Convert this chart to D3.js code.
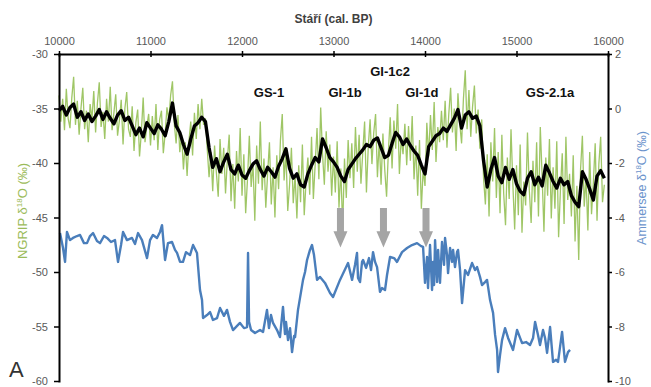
<!DOCTYPE html>
<html>
<head>
<meta charset="utf-8">
<script src="https://cdn.jsdelivr.net/npm/d3@7"></script>
<style>
body { margin: 0; background: #fff; }
text { font-family: "Liberation Sans", Arial, sans-serif; }
</style>
</head>
<body>
<script>
// top axis (age) and the two y axes
var xTicks = [10000, 11000, 12000, 13000, 14000, 15000, 16000];
var ngripTicks = [-30, -35, -40, -45, -50, -55, -60];
var ammTicks = [2, 0, -2, -4, -6, -8, -10];

// NGRIP raw d18O, one value every 20 years from 10000 BP
var rawStart = 10000, rawStep = 20;
var ngripRaw = [
  -33.8, -36.2, -34.1, -37.0, -33.2, -35.9, -36.8, -34.0, -32.1, -36.5,
  -34.3, -37.4, -35.0, -33.1, -36.9, -35.2, -38.1, -34.6, -36.0, -33.4,
  -37.2, -34.5, -32.6, -36.7, -35.3, -37.8, -34.1, -36.2, -33.0, -37.0,
  -35.4, -33.7, -37.5, -36.1, -34.2, -38.3, -35.0, -33.5, -36.9, -37.6,
  -34.8, -38.9, -36.3, -35.1, -39.4, -37.2, -34.0, -38.1, -36.6, -35.5,
  -38.4, -35.7, -37.9, -34.6, -38.8, -36.0, -35.2, -39.1, -37.3, -34.9,
  -36.1, -33.8, -32.5, -36.4, -38.2, -35.6, -39.0, -37.4, -40.6, -38.1,
  -41.2, -38.0, -36.2, -39.3, -35.4, -37.8, -34.6, -36.9, -34.1, -36.5,
  -35.9, -38.7, -41.3, -39.0, -42.6, -38.4, -40.9, -43.1, -37.8, -41.0,
  -38.6, -42.8, -39.7, -37.4, -43.5, -40.1, -44.2, -38.9, -41.7, -36.8,
  -43.0, -39.2, -44.6, -41.5, -37.5, -42.2, -40.0, -45.3, -38.4, -41.9,
  -36.2, -42.5, -39.6, -44.1, -41.0, -38.1, -43.8, -40.4, -45.0, -39.3,
  -42.4, -37.9, -35.5, -41.6, -39.0, -44.4, -42.0, -38.6, -43.7, -41.1,
  -45.1, -40.2, -43.6, -38.3, -44.8, -41.7, -39.5, -42.9, -37.6, -43.3,
  -40.1, -36.8, -41.5, -34.9, -39.2, -42.0, -37.1, -40.8, -38.3, -43.0,
  -39.4, -42.7, -38.0, -44.1, -40.5, -46.0, -39.6, -43.2, -37.9, -41.4,
  -38.2, -42.3, -36.7, -40.8, -37.4, -41.9, -39.0, -36.2, -42.7, -38.5,
  -36.0, -40.1, -37.2, -35.5, -41.3, -38.0, -42.0, -37.3, -40.6, -43.1,
  -38.9, -35.8, -40.5, -36.1, -38.7, -34.6, -41.0, -37.7, -39.2, -36.4,
  -40.2, -36.6, -39.8, -35.7, -41.5, -38.4, -43.0, -37.9, -44.2, -40.6,
  -42.1, -36.3, -39.4, -35.6, -38.8, -34.4, -39.9, -36.7, -38.1, -35.2,
  -37.9, -34.3, -38.6, -35.5, -33.1, -37.2, -35.0, -38.9, -33.6, -36.4,
  -38.2, -34.1, -31.5, -36.9, -33.3, -37.6, -34.8, -32.9, -37.3, -35.1,
  -38.7, -36.0, -41.4, -43.8, -39.2, -44.9, -38.1, -41.7, -36.8, -43.2,
  -39.0, -44.6, -37.4, -42.8, -45.7, -39.5, -43.3, -36.9, -41.9, -46.1,
  -40.2, -44.8, -38.3, -46.4, -41.7, -43.9, -37.2, -42.5, -45.5, -39.8,
  -43.6, -38.1, -44.9, -36.7, -41.2, -46.3, -39.5, -43.0, -37.8, -45.1,
  -40.4, -44.2, -38.0, -46.8, -42.5, -39.1, -45.6, -37.6, -43.4, -41.0,
  -44.9, -39.3, -47.2, -42.1, -48.9, -40.6, -37.5, -44.0, -41.3, -46.2,
  -39.0, -44.7, -41.8, -38.2, -45.3, -40.1, -37.6, -43.6, -42.0
];

// NGRIP smoothed, one value every 40 years
var smoothStart = 10000, smoothStep = 40;
var ngripSmooth = [
  -35.2, -34.8, -35.6, -34.9, -34.6, -35.8, -35.3, -36.1, -35.5, -36.2,
  -35.7, -35.1, -36.0, -35.3, -35.9, -36.4, -35.6, -35.2, -36.1, -35.8,
  -36.6, -37.4, -36.8, -37.6, -36.3, -36.8, -37.3, -36.5, -36.9, -37.5,
  -36.2, -34.5, -36.6, -37.2, -38.3, -39.2, -37.8, -36.6, -36.3, -35.8,
  -36.2, -38.6, -40.4, -39.6, -40.8, -39.9, -39.2, -40.6, -41.0, -40.2,
  -41.1, -41.4, -40.7, -40.1, -39.8, -40.6, -41.2, -40.4, -40.8, -41.3,
  -40.3, -39.6, -38.7, -40.5, -41.4, -41.0, -42.0, -42.2, -41.0, -40.2,
  -39.5, -39.9, -37.8, -38.6, -39.5, -39.9, -40.4, -41.2, -41.7, -40.6,
  -40.1, -39.6, -39.2, -38.8, -38.3, -38.5, -37.9, -37.7, -38.6, -39.5,
  -39.3, -38.2, -37.2, -37.6, -38.3, -37.8, -38.4, -38.9, -39.3, -40.2,
  -41.0, -38.5, -38.0, -37.5, -37.3, -36.8, -37.1, -36.5, -35.9, -35.1,
  -36.8, -35.6, -35.3, -35.9, -35.7, -36.6, -39.8, -42.2, -40.6, -39.5,
  -41.2, -41.8, -40.4, -41.5, -40.6, -41.9, -42.6, -42.9, -41.4, -40.8,
  -42.0, -41.3, -42.1, -40.2, -40.9, -41.7, -42.3, -41.4, -42.0, -41.7,
  -43.0, -43.6, -44.0, -40.8, -41.5, -42.4, -43.4, -41.2, -40.7, -41.4
];

// Ammersee d18O (right axis)
var ammAge = [
  10011, 10044, 10066, 10087, 10120, 10153, 10197, 10230, 10273, 10306,
  10339, 10372, 10415, 10448, 10492, 10525, 10568, 10612, 10645, 10678,
  10700, 10743, 10798, 10831, 10864, 10907, 10962, 10995, 11027, 11071,
  11104, 11126, 11159, 11191, 11235, 11268, 11290, 11323, 11355, 11388,
  11432, 11465, 11508, 11541, 11563, 11574, 11618, 11651, 11683, 11727,
  11760, 11803, 11836, 11869, 11902, 11946, 11978, 12022, 12055, 12066,
  12077, 12099, 12142, 12197, 12230, 12273, 12295, 12317, 12339, 12383,
  12415, 12448, 12470, 12481, 12503, 12525, 12547, 12569, 12580, 12612,
  12667, 12689, 12711, 12743, 12765, 12787, 12820, 12853, 12907, 12962,
  12995, 13071, 13159, 13203, 13235, 13257, 13268, 13290, 13312, 13323,
  13356, 13388, 13410, 13432, 13454, 13476, 13508, 13530, 13563, 13585,
  13618, 13662, 13694, 13749, 13804, 13858, 13913, 13957, 13979, 14000,
  14022, 14033, 14055, 14077, 14088, 14099, 14110, 14132, 14143, 14164,
  14186, 14208, 14219, 14241, 14252, 14274, 14296, 14307, 14328, 14350,
  14361, 14383, 14405, 14438, 14470, 14514, 14547, 14569, 14601, 14623,
  14656, 14678, 14711, 14744, 14766, 14788, 14798, 14820, 14842, 14875,
  14908, 14940, 14962, 15006, 15039, 15061, 15104, 15148, 15181, 15203,
  15235, 15257, 15290, 15312, 15334, 15367, 15399, 15432, 15454, 15498,
  15530, 15563, 15585
];
var ammVal = [
  -4.57, -5.12, -5.63, -4.53, -4.83, -4.75, -4.68, -4.64, -4.94, -4.94,
  -4.68, -4.57, -4.86, -4.94, -4.68, -4.75, -4.90, -4.83, -5.63, -5.01,
  -4.53, -4.83, -4.75, -4.97, -4.57, -4.83, -5.49, -4.83, -4.64, -4.75,
  -4.53, -4.28, -5.56, -4.94, -4.90, -5.19, -5.30, -5.63, -5.63, -5.27,
  -5.38, -5.01, -5.30, -6.66, -7.03, -7.69, -7.58, -7.47, -7.76, -7.69,
  -7.32, -7.61, -7.39, -7.83, -8.13, -7.98, -7.87, -8.06, -8.02, -5.30,
  -7.83, -8.13, -8.24, -8.13, -8.20, -7.39, -8.06, -7.58, -7.87, -8.13,
  -8.39, -7.28, -8.28, -7.83, -8.50, -8.06, -8.94, -8.35, -8.39, -7.39,
  -6.29, -6.00, -5.56, -5.19, -5.01, -5.38, -6.29, -6.18, -6.40, -6.77,
  -6.92, -6.29, -5.67, -6.29, -5.74, -5.30, -6.22, -6.37, -5.63, -5.56,
  -5.85, -5.49, -5.93, -5.27, -5.63, -5.82, -6.73, -6.59, -6.66, -6.11,
  -5.45, -5.49, -5.63, -5.27, -5.12, -5.01, -4.94, -5.05, -5.08, -6.40,
  -5.45, -6.59, -5.01, -6.66, -5.63, -6.48, -4.83, -6.37, -5.19, -6.40,
  -4.90, -5.74, -4.75, -5.38, -6.04, -5.12, -5.63, -5.19, -5.82, -5.27,
  -5.19, -5.93, -7.14, -5.93, -6.11, -5.67, -5.93, -5.82, -6.18, -6.48,
  -6.37, -6.29, -7.03, -7.50, -8.31, -8.86, -9.67, -9.05, -8.50, -8.06,
  -8.42, -8.68, -8.86, -8.13, -8.42, -8.61, -8.57, -8.68, -8.42, -7.83,
  -8.31, -8.68, -8.13, -8.42, -8.97, -8.02, -9.30, -9.22, -9.30, -8.20,
  -9.30, -8.94, -8.86
];

// climate stage labels and arrows
var periodNames = ["GS-1", "GI-1b", "GI-1c2", "GI-1d", "GS-2.1a"];
var periodAges = [12295, 13126, 13618, 13965, 15367];
var arrowAges = [13076, 13546, 14011];

var margin = {top: 54, right: 43, bottom: 6, left: 59}
, width = 651 - margin.left - margin.right
, height = 387 - margin.top - margin.bottom;

var x = d3.scaleLinear().domain([10000, 16000]).range([0, width]);
var yL = d3.scaleLinear().domain([-60, -30]).range([height, 0]);
var yR = d3.scaleLinear().domain([-10, 2]).range([height, 0]);

var svg = d3.select('body').append('svg')
.attr('width', 651)
.attr('height', 387);

var main = svg.append('g')
.attr('transform', 'translate(' + margin.left + ',' + margin.top + ')');

// raw NGRIP
var rawLine = d3.line()
.x(function (d, i) { return x(rawStart + i * rawStep); })
.y(function (d) { return yL(d); });

main.append('path')
.datum(ngripRaw)
.attr('fill', 'none')
.attr('stroke', '#9fc666')
.attr('stroke-width', 1.3)
.attr('d', rawLine);

// smoothed NGRIP
var smoothLine = d3.line()
.x(function (d, i) { return x(smoothStart + i * smoothStep); })
.y(function (d) { return yL(d); });

main.append('path')
.datum(ngripSmooth)
.attr('fill', 'none')
.attr('stroke', '#000')
.attr('stroke-width', 3.4)
.attr('stroke-linejoin', 'round')
.attr('d', smoothLine);

// Ammersee
var ammLine = d3.line()
.x(function (d, i) { return x(ammAge[i]); })
.y(function (d) { return yR(d); });

main.append('path')
.datum(ammVal)
.attr('fill', 'none')
.attr('stroke', '#4a7ebb')
.attr('stroke-width', 2.4)
.attr('stroke-linejoin', 'round')
.attr('d', ammLine);

// gray arrows
var arrowTop = yR(-3.65), arrowTip = yR(-5.1), headStart = yR(-4.5);
main.selectAll('.arrow')
.data(arrowAges)
.enter().append('path')
.attr('class', 'arrow')
.attr('fill', '#a5a5a5')
.attr('d', function (d) {
  var cx = x(d);
  return 'M' + (cx - 3.5) + ',' + arrowTop + 'L' + (cx + 3.5) + ',' + arrowTop
    + 'L' + (cx + 3.5) + ',' + headStart + 'L' + (cx + 7) + ',' + headStart
    + 'L' + cx + ',' + arrowTip + 'L' + (cx - 7) + ',' + headStart
    + 'L' + (cx - 3.5) + ',' + headStart + 'Z';
});

// stage labels
main.selectAll('.period')
.data(periodNames)
.enter().append('text')
.attr('class', 'period')
.attr('x', function (d, i) { return x(periodAges[i]); })
.attr('y', function (d) { return d === 'GI-1c2' ? 22 : 43; })
.attr('text-anchor', 'middle')
.attr('font-size', 13)
.attr('font-weight', 'bold')
.attr('fill', '#111')
.text(function (d) { return d; });

// axes
function styleAxis(g) {
  g.attr('font-family', '"Liberation Sans", Arial, sans-serif').attr('font-size', 11);
  g.select('.domain').attr('stroke', '#000').attr('stroke-width', 2).attr('stroke-linecap', 'square');
  g.selectAll('.tick line').attr('stroke', '#000').attr('stroke-width', 1.5);
  g.selectAll('.tick text').attr('fill', '#595959');
}

var topAxis = main.append('g')
.call(d3.axisTop(x).tickValues(xTicks).tickFormat(function (d) { return d; })
  .tickSize(4).tickSizeOuter(0).tickPadding(5))
.call(styleAxis);
topAxis.selectAll('.tick line').attr('y1', 3).attr('y2', -3);

main.append('g')
.call(d3.axisLeft(yL).tickValues(ngripTicks).tickFormat(function (d) { return String(d); })
  .tickSize(5).tickSizeOuter(0).tickPadding(6))
.call(styleAxis);

main.append('g')
.attr('transform', 'translate(' + width + ',0)')
.call(d3.axisRight(yR).tickValues(ammTicks).tickFormat(function (d) { return String(d); })
  .tickSize(4).tickSizeOuter(0).tickPadding(3))
.call(styleAxis);

// titles
svg.append('text')
.attr('x', margin.left + width / 2)
.attr('y', 23)
.attr('text-anchor', 'middle')
.attr('font-size', 12)
.attr('font-weight', 'bold')
.attr('fill', '#404040')
.text('Stáří (cal. BP)');

var leftLabel = svg.append('text')
.attr('transform', 'translate(27,211) rotate(-90)')
.attr('text-anchor', 'middle')
.attr('font-size', 13)
.attr('fill', '#9bbb59');
leftLabel.append('tspan').text('NGRIP δ');
leftLabel.append('tspan').attr('font-size', 8).attr('dy', -5).text('18');
leftLabel.append('tspan').attr('dy', 5).text('O (‰)');

var rightLabel = svg.append('text')
.attr('transform', 'translate(646,188) rotate(-90)')
.attr('text-anchor', 'middle')
.attr('font-size', 12.5)
.attr('fill', '#6b93cc');
rightLabel.append('tspan').text('Ammersee δ');
rightLabel.append('tspan').attr('font-size', 8).attr('dy', -5).text('18');
rightLabel.append('tspan').attr('dy', 5).text('O (‰)');

svg.append('text')
.attr('x', 9)
.attr('y', 377)
.attr('font-size', 22)
.attr('fill', '#333')
.text('A');
</script>
</body>
</html>
